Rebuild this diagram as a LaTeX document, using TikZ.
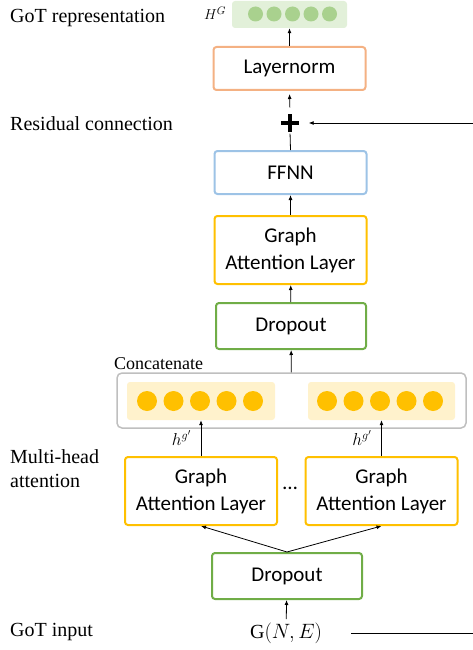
\documentclass[tikz,border=0pt]{standalone}
\usepackage{fontspec}
\setmainfont{Liberation Serif}
\newfontfamily\boxfont{Carlito}
\usepackage{tikz}
\usetikzlibrary{arrows.meta}

\definecolor{normorange}{HTML}{F4B183}
\definecolor{ffnnblue}{HTML}{9DC3E6}
\definecolor{gatyellow}{HTML}{FFC000}
\definecolor{dropgreen}{HTML}{70AD47}
\definecolor{catgray}{HTML}{BFBFBF}
\definecolor{vecgreen}{HTML}{E2F0D9}
\definecolor{dotgreen}{HTML}{A9D18E}
\definecolor{vecyellow}{HTML}{FFF2CC}

\begin{document}
\begin{tikzpicture}[x = 1pt, y = -1pt,
		box/.style = {draw, line width = 2pt, rounded corners = 3pt, fill = white, align = center, inner sep = 0pt,
			font = \boxfont\fontsize{21}{27}\selectfont, minimum width = 152pt, minimum height = 44pt},
		lbl/.style = {anchor = base west, inner sep = 0pt, font = \fontsize{20}{24}\selectfont},
		arr/.style = {-{Latex[length = 5pt, width = 4pt]}, line width = 0.8pt}]
		\useasboundingbox (0,0) rectangle (473,650);
		
		% left column of captions
		\node [lbl] (rep text) at (10,23) {GoT representation};
		\node [lbl] (res text) at (10,130) {Residual connection};
		\node [lbl, font = \fontsize{18}{22}\selectfont] (cat text) at (114,369) {Concatenate};
		\node [lbl, align = left] (mha text) at (10,487) {Multi-head\\attention};
		\node [lbl] (in text) at (10,636) {GoT input};
		
		% output vector
		\node [fill = vecgreen, rounded corners = 3pt, minimum width = 115pt, minimum height = 27pt] (out vec) at (289.5,14.5) {};
		\foreach \i in {0,...,4}
			\fill [dotgreen] (255.5 + 18.5*\i, 14) circle [radius = 7.5pt];
		\node [font = \fontsize{15}{18}\selectfont] (HG) at (215,13) {$H^G$};
		
		\node [box, draw = normorange, minimum height = 43pt] (layernorm) at (289.5,68.5) {Layernorm};
		
		\node [minimum size = 17pt, inner sep = 0pt] (plus) at (290,123) {};
		\draw [line width = 3.5pt] (plus.north) -- (plus.south) (plus.west) -- (plus.east);
		
		\node [box, draw = ffnnblue, minimum height = 43pt] (ffnn) at (290.5,172.5) {FFNN};
		\node [box, draw = gatyellow, minimum height = 68pt] (gal) at (290.5,250) {Graph\\Attention Layer};
		\node [box, draw = dropgreen, minimum width = 150pt, minimum height = 46pt] (drop top) at (291,326) {Dropout};
		
		% concatenation of the heads
		\node [draw = catgray, line width = 1.5pt, rounded corners = 5pt, minimum width = 349pt, minimum height = 55pt] (concat) at (291.5,400.5) {};
		\node [fill = vecyellow, rounded corners = 3pt, minimum width = 148pt, minimum height = 38pt] (vec L) at (201,401) {};
		\node [fill = vecyellow, rounded corners = 3pt, minimum width = 147pt, minimum height = 38pt] (vec R) at (381.5,401) {};
		\foreach \i in {0,...,4} {
			\fill [gatyellow] (147 + 26.5*\i, 401) circle [radius = 10pt];
			\fill [gatyellow] (327 + 26.5*\i, 401) circle [radius = 10pt];
		}
		
		\node [box, draw = gatyellow, minimum height = 68pt] (gal L) at (201,491) {Graph\\Attention Layer};
		\node [box, draw = gatyellow, minimum height = 68pt] (gal R) at (381.5,491) {Graph\\Attention Layer};
		\node [font = \boxfont\fontsize{21}{24}\selectfont] (dots) at (290,488) {…};
		
		\node [box, draw = dropgreen, minimum width = 150pt, minimum height = 46pt] (drop bot) at (287,576) {Dropout};
		\node [font = \fontsize{20}{24}\selectfont] (input) at (286,633) {$\mathrm{G}(N,E)$};
		
		\coordinate (res start) at (473,123);
		\coordinate (in end) at (473,633);
		
		\draw [arr] (layernorm) -- (out vec);
		\draw [arr, shorten <= 7pt, shorten >= 3pt] (plus.north) -- (layernorm.south);
		\draw [line width = 0.8pt, shorten <= 2pt] (plus.south) -- (ffnn.north);
		\draw [arr, shorten >= 10pt] (res start) -- (plus.east);
		\draw [arr] (gal) -- (ffnn);
		\draw [arr] (drop top) -- (gal);
		\draw [arr] (concat) -- (drop top);
		\draw [arr] (gal L) -- (vec L) node [midway, left = 6pt, font = \fontsize{18}{20}\selectfont] {$h^{g'}$};
		\draw [arr] (gal R) -- (vec R) node [midway, left = 6pt, font = \fontsize{18}{20}\selectfont] {$h^{g'}$};
		\draw [arr] (drop bot.north) -- (gal L.south);
		\draw [arr] (drop bot.north) -- (gal R.south);
		\draw [arr] (input) -- (drop bot);
		\draw [line width = 0.8pt, shorten <= 26pt] (input.east) -- (in end);
	\end{tikzpicture}
\end{document}
